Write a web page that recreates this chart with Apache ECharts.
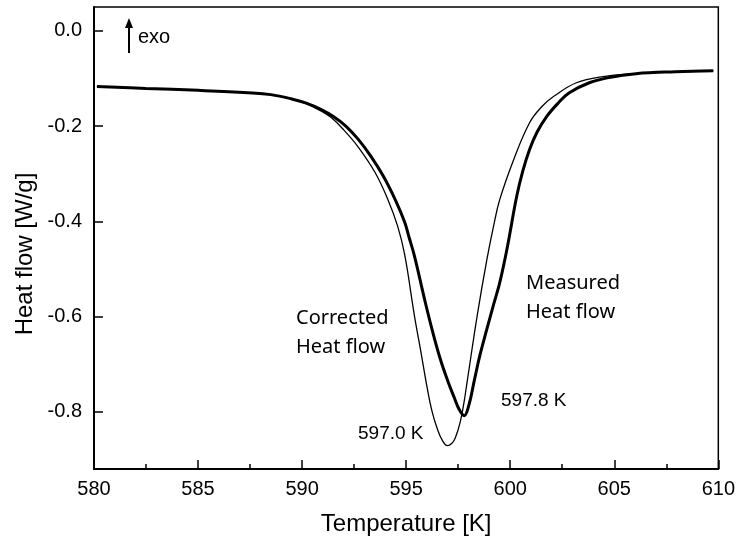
<!DOCTYPE html>
<html>
<head>
<meta charset="utf-8">
<script src="https://cdn.jsdelivr.net/npm/echarts@6/dist/echarts.min.js"></script>
<style>
  html, body { margin: 0; padding: 0; background: #fff; }
  #chart { width: 738px; height: 542px; }
</style>
</head>
<body>
<div id="chart"></div>
<script>
    // measured heat flow (thick line)
    var measuredT = [580.14, 582.5, 585.0, 587.4, 588.5, 589.5, 590.2, 590.9, 591.5, 592.1,
        592.7, 593.3, 593.9, 594.5, 594.93, 595.15, 595.40, 595.88, 596.25, 596.64, 597.0,
        597.31, 597.55, 597.79, 598.02, 598.26, 598.55, 598.88, 599.2, 599.50, 599.84,
        600.31, 600.6, 600.93, 601.3, 601.75, 602.3, 602.84, 603.80, 604.75, 606.04,
        607.94, 609.76];
    var measuredH = [-0.117, -0.121, -0.125, -0.130, -0.134, -0.143, -0.152, -0.165, -0.180, -0.200,
        -0.228, -0.263, -0.305, -0.357, -0.402, -0.435, -0.473, -0.563, -0.628, -0.689, -0.735,
        -0.770, -0.795, -0.808, -0.785, -0.737, -0.680, -0.626, -0.575, -0.528, -0.459,
        -0.348, -0.295, -0.249, -0.212, -0.180, -0.152, -0.130, -0.109, -0.098, -0.090,
        -0.086, -0.084];

    // corrected heat flow (thin line)
    var correctedT = [580.14, 582.5, 585.0, 587.4, 588.5, 589.5, 590.2, 590.9, 591.40, 592.0,
        592.68, 593.50, 594.12, 594.59, 594.93, 595.40, 595.7, 596.02, 596.25, 596.50,
        596.74, 596.98, 597.2, 597.36, 597.60, 597.78, 597.93, 598.41, 598.88, 599.2,
        599.50, 600.17, 600.93, 601.5, 602.08, 603.18, 604.46, 606.04, 607.94, 609.76];
    var correctedH = [-0.117, -0.121, -0.125, -0.130, -0.134, -0.143, -0.153, -0.168, -0.182, -0.208,
        -0.243, -0.297, -0.354, -0.410, -0.470, -0.599, -0.672, -0.752, -0.800, -0.836,
        -0.860, -0.871, -0.866, -0.855, -0.821, -0.780, -0.737, -0.599, -0.480, -0.410,
        -0.354, -0.270, -0.193, -0.160, -0.138, -0.109, -0.096, -0.090, -0.086, -0.084];

    var yTicks = [-0.8, -0.6, -0.4, -0.2, 0.0];

    function zip(a, b) {
        return a.map(function(v, i) { return [v, b[i]]; });
    }

    var myChart = echarts.init(document.getElementById('chart'));
    var labelFont = 'Liberation Sans, Arial, sans-serif';
    var noteFont = 'Noto Sans, Open Sans, sans-serif';

    var option = {
        animation: false,
        backgroundColor: '#fff',
        grid: {
            left: 94, right: 15, top: 7, bottom: 73,
            show: true,
            borderColor: '#000',
            borderWidth: 1.5
        },
        xAxis: {
            type: 'value',
            min: 580, max: 610, interval: 5,
            name: 'Temperature [K]',
            nameLocation: 'middle',
            nameGap: 43,
            nameTextStyle: { fontFamily: labelFont, fontSize: 24, color: '#000' },
            axisLine: { onZero: false, lineStyle: { color: '#000', width: 2 } },
            axisTick: { inside: true, length: 9, lineStyle: { color: '#000', width: 1.5 } },
            minorTick: { show: true, splitNumber: 2, length: 5, lineStyle: { color: '#000', width: 1.5 } },
            axisLabel: { fontFamily: labelFont, fontSize: 20, color: '#000', margin: 10 },
            splitLine: { show: false }
        },
        yAxis: {
            type: 'value',
            min: -0.92, max: 0.05,
            axisLine: { show: true, onZero: false, lineStyle: { color: '#000', width: 2 } },
            axisTick: { show: true, inside: true, length: 9, customValues: yTicks, lineStyle: { color: '#000', width: 1.5 } },
            axisLabel: {
                fontFamily: labelFont, fontSize: 20, color: '#000', margin: 12,
                customValues: yTicks,
                formatter: function(v) { return v.toFixed(1); }
            },
            splitLine: { show: false }
        },
        series: [
            {
                name: 'Measured',
                type: 'line',
                data: zip(measuredT, measuredH),
                smooth: 0.4,
                showSymbol: false,
                lineStyle: { color: '#000', width: 3 },
                z: 3
            },
            {
                name: 'Corrected',
                type: 'line',
                data: zip(correctedT, correctedH),
                smooth: 0.4,
                showSymbol: false,
                lineStyle: { color: '#000', width: 1.3 },
                z: 2
            }
        ],
        graphic: [
            // y axis title, placed by hand like the original figure
            { type: 'text', x: 25, y: 254, rotation: Math.PI / 2,
              style: { text: 'Heat flow [W/g]', font: '24px ' + labelFont, fill: '#000', align: 'center', verticalAlign: 'middle' } },
            { type: 'line', shape: { x1: 129, y1: 53, x2: 129, y2: 26 }, style: { stroke: '#000', lineWidth: 2 } },
            { type: 'polygon', shape: { points: [[125, 28], [133, 28], [129, 18]] }, style: { fill: '#000' } },
            { type: 'text', left: 138, top: 27, style: { text: 'exo', font: '20px ' + labelFont, fill: '#000' } },
            { type: 'text', left: 296, top: 304, style: { text: 'Corrected\nHeat flow', font: '20px ' + noteFont, fill: '#000', lineHeight: 29 } },
            { type: 'text', left: 526, top: 269, style: { text: 'Measured\nHeat flow', font: '20px ' + noteFont, fill: '#000', lineHeight: 29 } },
            { type: 'text', left: 501, top: 391, style: { text: '597.8 K', font: '19px ' + labelFont, fill: '#000' } },
            { type: 'text', left: 358, top: 424, style: { text: '597.0 K', font: '19px ' + labelFont, fill: '#000' } }
        ]
    };

    myChart.setOption(option);
</script>
</body>
</html>
